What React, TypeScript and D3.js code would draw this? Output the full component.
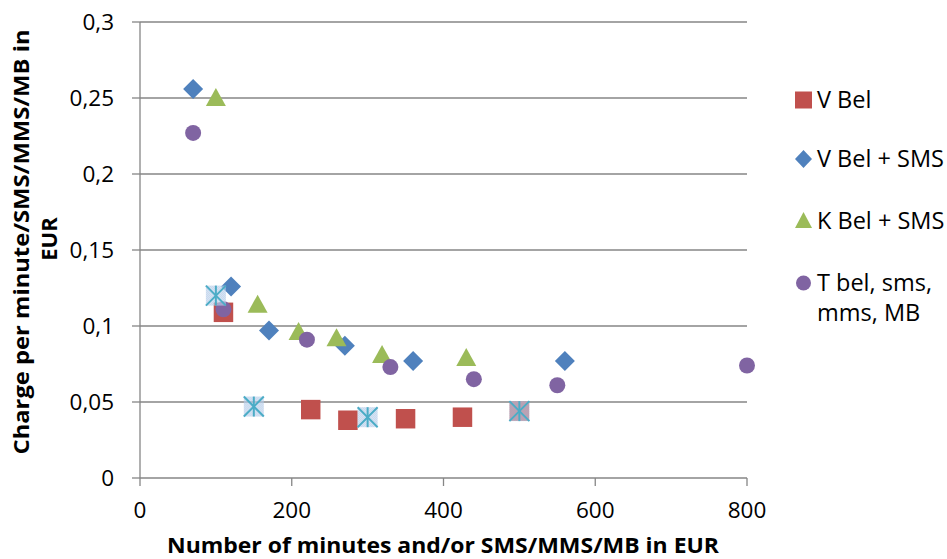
import React from "react";
import * as d3 from "d3";

const vBelX = [110, 225, 274, 350, 425, 500];
const vBelY = [0.109, 0.045, 0.038, 0.039, 0.04, 0.044];

const vBelSmsX = [70, 120, 170, 270, 360, 560];
const vBelSmsY = [0.256, 0.126, 0.097, 0.087, 0.077, 0.077];

const kBelSmsX = [100, 155, 209, 259, 319, 430];
const kBelSmsY = [0.25, 0.114, 0.096, 0.092, 0.081, 0.079];

const tBelX = [70, 110, 220, 330, 440, 550, 800];
const tBelY = [0.227, 0.111, 0.091, 0.073, 0.065, 0.061, 0.074];

const extraX = [100, 150, 300, 500];
const extraY = [0.12, 0.047, 0.04, 0.044];

const xTicks = [0, 200, 400, 600, 800];
const yTicks = [0, 0.05, 0.1, 0.15, 0.2, 0.25, 0.3];

const legendLabels = ["V Bel", "V Bel + SMS", "K Bel + SMS", "T bel, sms,"];

const W = 947;
const H = 559;
const FONT = "'Open Sans', 'Noto Sans', sans-serif";

export default function App() {
  const x = d3.scaleLinear().domain([0, 800]).range([140, 747]);
  const y = d3.scaleLinear().domain([0, 0.3]).range([478, 22]);
  const fmt = (v: number) => String(+v.toFixed(2)).replace(".", ",");

  const sq = d3.symbol().type(d3.symbolSquare).size(380)()!;
  const diamond = "M0,-10L10,0L0,10L-10,0Z";
  const tri = "M0,-10L10,8L-10,8Z";

  const red = "#C0504D";
  const blue = "#4F81BD";
  const green = "#9BBB59";
  const purple = "#8064A2";
  const cyan = "#4BACC6";

  const legendY = [100, 159, 221, 283];

  return (
    <svg width={W} height={H} style={{ position: "absolute", left: 0, top: 0 }}>
      <defs>
        <pattern id="chk" width="2" height="2" patternUnits="userSpaceOnUse">
          <rect width="2" height="2" fill="#ffffff" fillOpacity="0.45" />
          <rect width="1" height="1" fill="#7FA7D8" fillOpacity="0.75" />
          <rect x="1" y="1" width="1" height="1" fill="#7FA7D8" fillOpacity="0.75" />
        </pattern>
      </defs>
      <rect width={W} height={H} fill="#fff" />
      {yTicks.map((t) => (
        <line key={"g" + t} x1={140} x2={747} y1={y(t)} y2={y(t)} stroke="#868686" strokeWidth={1.3} />
      ))}
      <line x1={140} x2={140} y1={22} y2={478} stroke="#868686" strokeWidth={1.3} />
      {yTicks.map((t) => (
        <g key={"yt" + t}>
          <line x1={132} x2={140} y1={y(t)} y2={y(t)} stroke="#868686" strokeWidth={1.3} />
          <text x={114} y={y(t) + 8} textAnchor="end" fontFamily={FONT} fontSize={22.5} fill="#000">
            {fmt(t)}
          </text>
        </g>
      ))}
      {xTicks.map((t) => (
        <g key={"xt" + t}>
          <line x1={x(t)} x2={x(t)} y1={478} y2={486} stroke="#868686" strokeWidth={1.3} />
          <text x={x(t)} y={518} textAnchor="middle" fontFamily={FONT} fontSize={22.5} fill="#000">
            {t}
          </text>
        </g>
      ))}
      <text x={443} y={553} textAnchor="middle" fontFamily={FONT} fontSize={22} fontWeight="bold" textLength={552} lengthAdjust="spacingAndGlyphs">
        Number of minutes and/or SMS/MMS/MB in EUR
      </text>
      <g transform="translate(29,242) rotate(-90)">
        <text x={0} y={0} textAnchor="middle" fontFamily={FONT} fontSize={22} fontWeight="bold" textLength={425} lengthAdjust="spacingAndGlyphs">
          Charge per minute/SMS/MMS/MB in
        </text>
        <text x={3} y={28} textAnchor="middle" fontFamily={FONT} fontSize={22} fontWeight="bold">
          EUR
        </text>
      </g>
      {vBelX.map((v, i) => (
        <path key={"r" + i} d={sq} transform={`translate(${x(v)},${y(vBelY[i])})`} fill={red} />
      ))}
      {vBelSmsX.map((v, i) => (
        <path key={"b" + i} d={diamond} transform={`translate(${x(v)},${y(vBelSmsY[i])})`} fill={blue} />
      ))}
      {kBelSmsX.map((v, i) => (
        <path key={"k" + i} d={tri} transform={`translate(${x(v)},${y(kBelSmsY[i])})`} fill={green} />
      ))}
      {tBelX.map((v, i) => (
        <circle key={"t" + i} cx={x(v)} cy={y(tBelY[i])} r={8} fill={purple} />
      ))}
      {extraX.map((v, i) => (
        <g key={"e" + i} transform={`translate(${x(v)},${y(extraY[i])})`}>
          <rect x={-10} y={-10} width={20} height={20} fill="url(#chk)" />
          <line x1={-10} y1={-10} x2={10} y2={10} stroke={cyan} strokeWidth={2} />
          <line x1={-10} y1={10} x2={10} y2={-10} stroke={cyan} strokeWidth={2} />
          <line x1={0} y1={-10} x2={0} y2={10} stroke={cyan} strokeWidth={2} />
        </g>
      ))}
      <rect x={795} y={legendY[0] - 8.5} width={17} height={17} fill={red} />
      <path d={`M803.5,${legendY[1] - 9}L812,${legendY[1]}L803.5,${legendY[1] + 9}L795,${legendY[1]}Z`} fill={blue} />
      <path d={`M803.5,${legendY[2] - 9}L812,${legendY[2] + 7}L795,${legendY[2] + 7}Z`} fill={green} />
      <circle cx={803.5} cy={legendY[3]} r={7.5} fill={purple} />
      {legendLabels.map((l, i) => (
        <text key={"l" + i} x={817} y={legendY[i] + 8} fontFamily={FONT} fontSize={23.5} fill="#000">
          {l}
        </text>
      ))}
      <text x={817} y={321} fontFamily={FONT} fontSize={23.5} fill="#000">
        mms, MB
      </text>
    </svg>
  );
}
